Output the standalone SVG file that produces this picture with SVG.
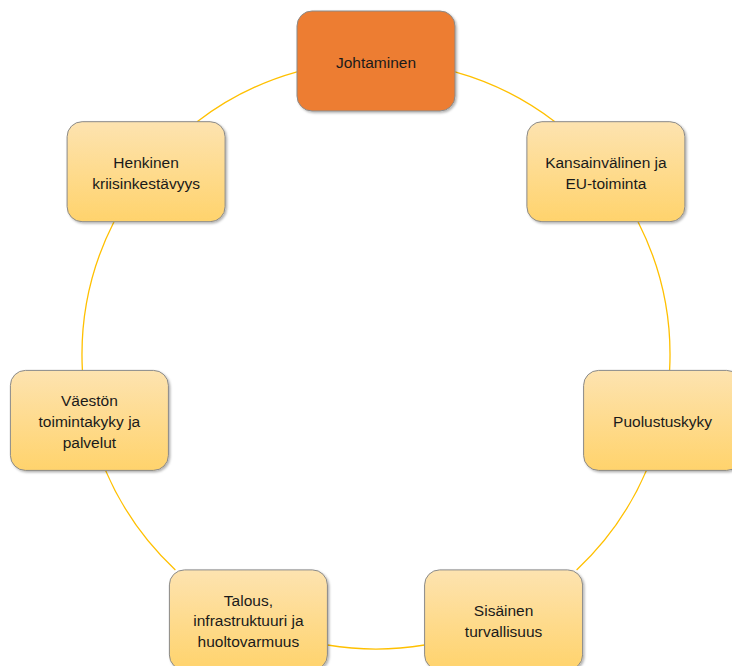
<svg xmlns="http://www.w3.org/2000/svg" width="732" height="666" viewBox="0 0 732 666">
<defs>
<linearGradient id="g" x1="0" y1="0" x2="0" y2="1">
<stop offset="0" stop-color="#fde3b0"/>
<stop offset="1" stop-color="#ffd36c"/>
</linearGradient>
<filter id="sh" x="-10%" y="-10%" width="125%" height="125%">
<feDropShadow dx="1.5" dy="1.5" stdDeviation="1" flood-color="#000" flood-opacity="0.3"/>
</filter>
</defs>
<style>
.box{fill:url(#g);stroke:#8a8a8a;stroke-width:1;filter:url(#sh)}
.main{fill:#ed7d31}
.arc{fill:none;stroke:#ffc000;stroke-width:1.3}
text{font-family:"Liberation Sans",Arial,sans-serif;font-size:15.5px;fill:#1a1a1a;text-anchor:middle}
</style>
<rect width="732" height="666" fill="#ffffff"/>
<g id="connectors">
<path class="arc" d="M455,71.8 A294,294 0 0 1 554.9,121.7"/>
<path class="arc" d="M638,221.7 A294,294 0 0 1 669.6,370.4"/>
<path class="arc" d="M646.4,470.4 A294,294 0 0 1 576.6,569.9"/>
<path class="arc" d="M424.6,645 A294,294 0 0 1 327.4,645"/>
<path class="arc" d="M175.4,569.9 A294,294 0 0 1 105.6,470.4"/>
<path class="arc" d="M82.4,370.4 A294,294 0 0 1 114,221.7"/>
<path class="arc" d="M197.1,121.7 A294,294 0 0 1 297,71.8"/>
</g>
<g id="johtaminen">
<rect class="box main" x="297" y="11" width="158" height="100" rx="15"/>
<text x="376" y="67.5">Johtaminen</text>
</g>
<g id="kansainvalinen">
<rect class="box" x="526.9" y="121.7" width="158" height="100" rx="15"/>
<text x="605.9" y="167.9">Kansainvälinen ja</text>
<text x="605.9" y="188.5">EU-toiminta</text>
</g>
<g id="puolustuskyky">
<rect class="box" x="583.6" y="370.4" width="158" height="100" rx="15"/>
<text x="662.6" y="426.9">Puolustuskyky</text>
</g>
<g id="sisainen">
<rect class="box" x="424.6" y="569.9" width="158" height="100" rx="15"/>
<text x="503.6" y="616.1">Sisäinen</text>
<text x="503.6" y="636.7">turvallisuus</text>
</g>
<g id="talous">
<rect class="box" x="169.4" y="569.9" width="158" height="100" rx="15"/>
<text x="248.4" y="605.8">Talous,</text>
<text x="248.4" y="626.4">infrastruktuuri ja</text>
<text x="248.4" y="647">huoltovarmuus</text>
</g>
<g id="vaeston">
<rect class="box" x="10.4" y="370.4" width="158" height="100" rx="15"/>
<text x="89.4" y="406.3">Väestön</text>
<text x="89.4" y="426.9">toimintakyky ja</text>
<text x="89.4" y="447.5">palvelut</text>
</g>
<g id="henkinen">
<rect class="box" x="67.1" y="121.7" width="158" height="100" rx="15"/>
<text x="146.1" y="167.9">Henkinen</text>
<text x="146.1" y="188.5">kriisinkestävyys</text>
</g>
</svg>
